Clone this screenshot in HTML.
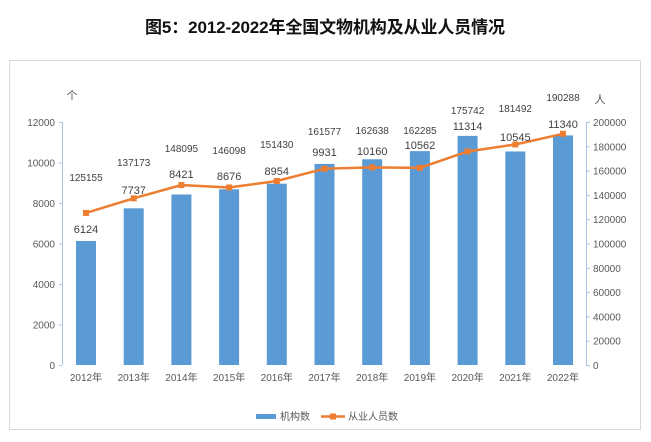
<!DOCTYPE html><html><head><meta charset="utf-8"><style>body{margin:0;background:#fff}svg{display:block}</style></head><body>
<svg width="651" height="442" xmlns="http://www.w3.org/2000/svg" font-family="'Liberation Sans','DejaVu Sans','Noto Sans CJK SC',sans-serif">
<text x="325" y="33" text-anchor="middle" font-size="17" font-weight="bold" fill="#111" font-family="'Liberation Sans','Noto Sans CJK SC',sans-serif" textLength="360">图5：2012-2022年全国文物机构及从业人员情况</text>
<rect x="9.5" y="60.5" width="631" height="369" fill="none" stroke="#d9d9d9"/>
<g font-size="11" fill="#595959">
<text x="72" y="99" text-anchor="middle" font-family="'Noto Sans CJK SC',sans-serif">个</text>
<text x="600" y="103" text-anchor="middle" font-family="'Noto Sans CJK SC',sans-serif">人</text>
</g>
<line x1="62.5" y1="122" x2="62.5" y2="365" stroke="#a9c4e4"/>
<line x1="586.5" y1="122" x2="586.5" y2="365" stroke="#a9c4e4"/>
<g font-size="10" fill="#595959" text-anchor="end" id="ly"></g>
<g font-size="10" fill="#595959" id="ry"></g>
<g id="bars"></g>
<g id="line"></g>
<g font-size="11" fill="#404040" text-anchor="middle" id="lab"></g>
<g font-size="10" fill="#595959" text-anchor="middle" id="xl"></g>
<rect x="256" y="414" width="20" height="5" fill="#5b9bd5"/>
<text x="280" y="420" font-size="10" fill="#595959" font-family="'Noto Sans CJK SC',sans-serif">机构数</text>
<line x1="321" y1="416.5" x2="345" y2="416.5" stroke="#ed7d31" stroke-width="2.5"/>
<rect x="330" y="413.5" width="6" height="6" fill="#ed7d31"/>
<text x="348" y="420" font-size="10" fill="#595959" font-family="'Noto Sans CJK SC',sans-serif">从业人员数</text>
</svg>
<script>
const ns="http://www.w3.org/2000/svg";
function el(p,t,a,txt){const e=document.createElementNS(ns,t);for(const k in a)e.setAttribute(k,a[k]);if(txt!==undefined)e.textContent=txt;document.getElementById(p).appendChild(e);return e;}
for(let v=0;v<=12000;v+=2000){const y=365-v*243/12000;el('ly','text',{x:55,y:y+4},v);el('ly','line',{x1:59,x2:62,y1:y+.5,y2:y+.5,stroke:'#a9c4e4'});}
for(let v=0;v<=200000;v+=20000){const y=365-v*243/200000;el('ry','text',{x:593,y:y+4},v);el('ry','line',{x1:586,x2:590,y1:y+.5,y2:y+.5,stroke:'#a9c4e4'});}
const b=[6124,7737,8421,8676,8954,9931,10160,10562,11314,10545,11340];
const l=[125155,137173,148095,146098,151430,161577,162638,162285,175742,181492,190288];
const bl=[229,190,174,176,171,152,151,145,126,137,124];
const ll=[177,162,148,150,144,131,130,130,110,108,97];
let pts=[];
for(let i=0;i<11;i++){const cx=86+i*47.7;const by=365-b[i]*243/12000;
el('bars','rect',{x:cx-10,y:by,width:20,height:365-by,fill:'#5b9bd5'});
const ly=365-l[i]*243/200000;pts.push(cx+','+ly);
el('lab','text',{x:cx,y:bl[i]+4},b[i]);el('lab','text',{x:cx,y:ll[i]+4,'font-size':10},l[i]);
el('xl','text',{x:cx,y:381},(2012+i)+'年');}
el('line','polyline',{points:pts.join(' '),fill:'none',stroke:'#ed7d31','stroke-width':2.5});
pts.forEach(p=>{const [x,y]=p.split(',').map(Number);el('line','rect',{x:x-3,y:y-3,width:6,height:6,fill:'#ed7d31'});});
</script>
</body></html>
